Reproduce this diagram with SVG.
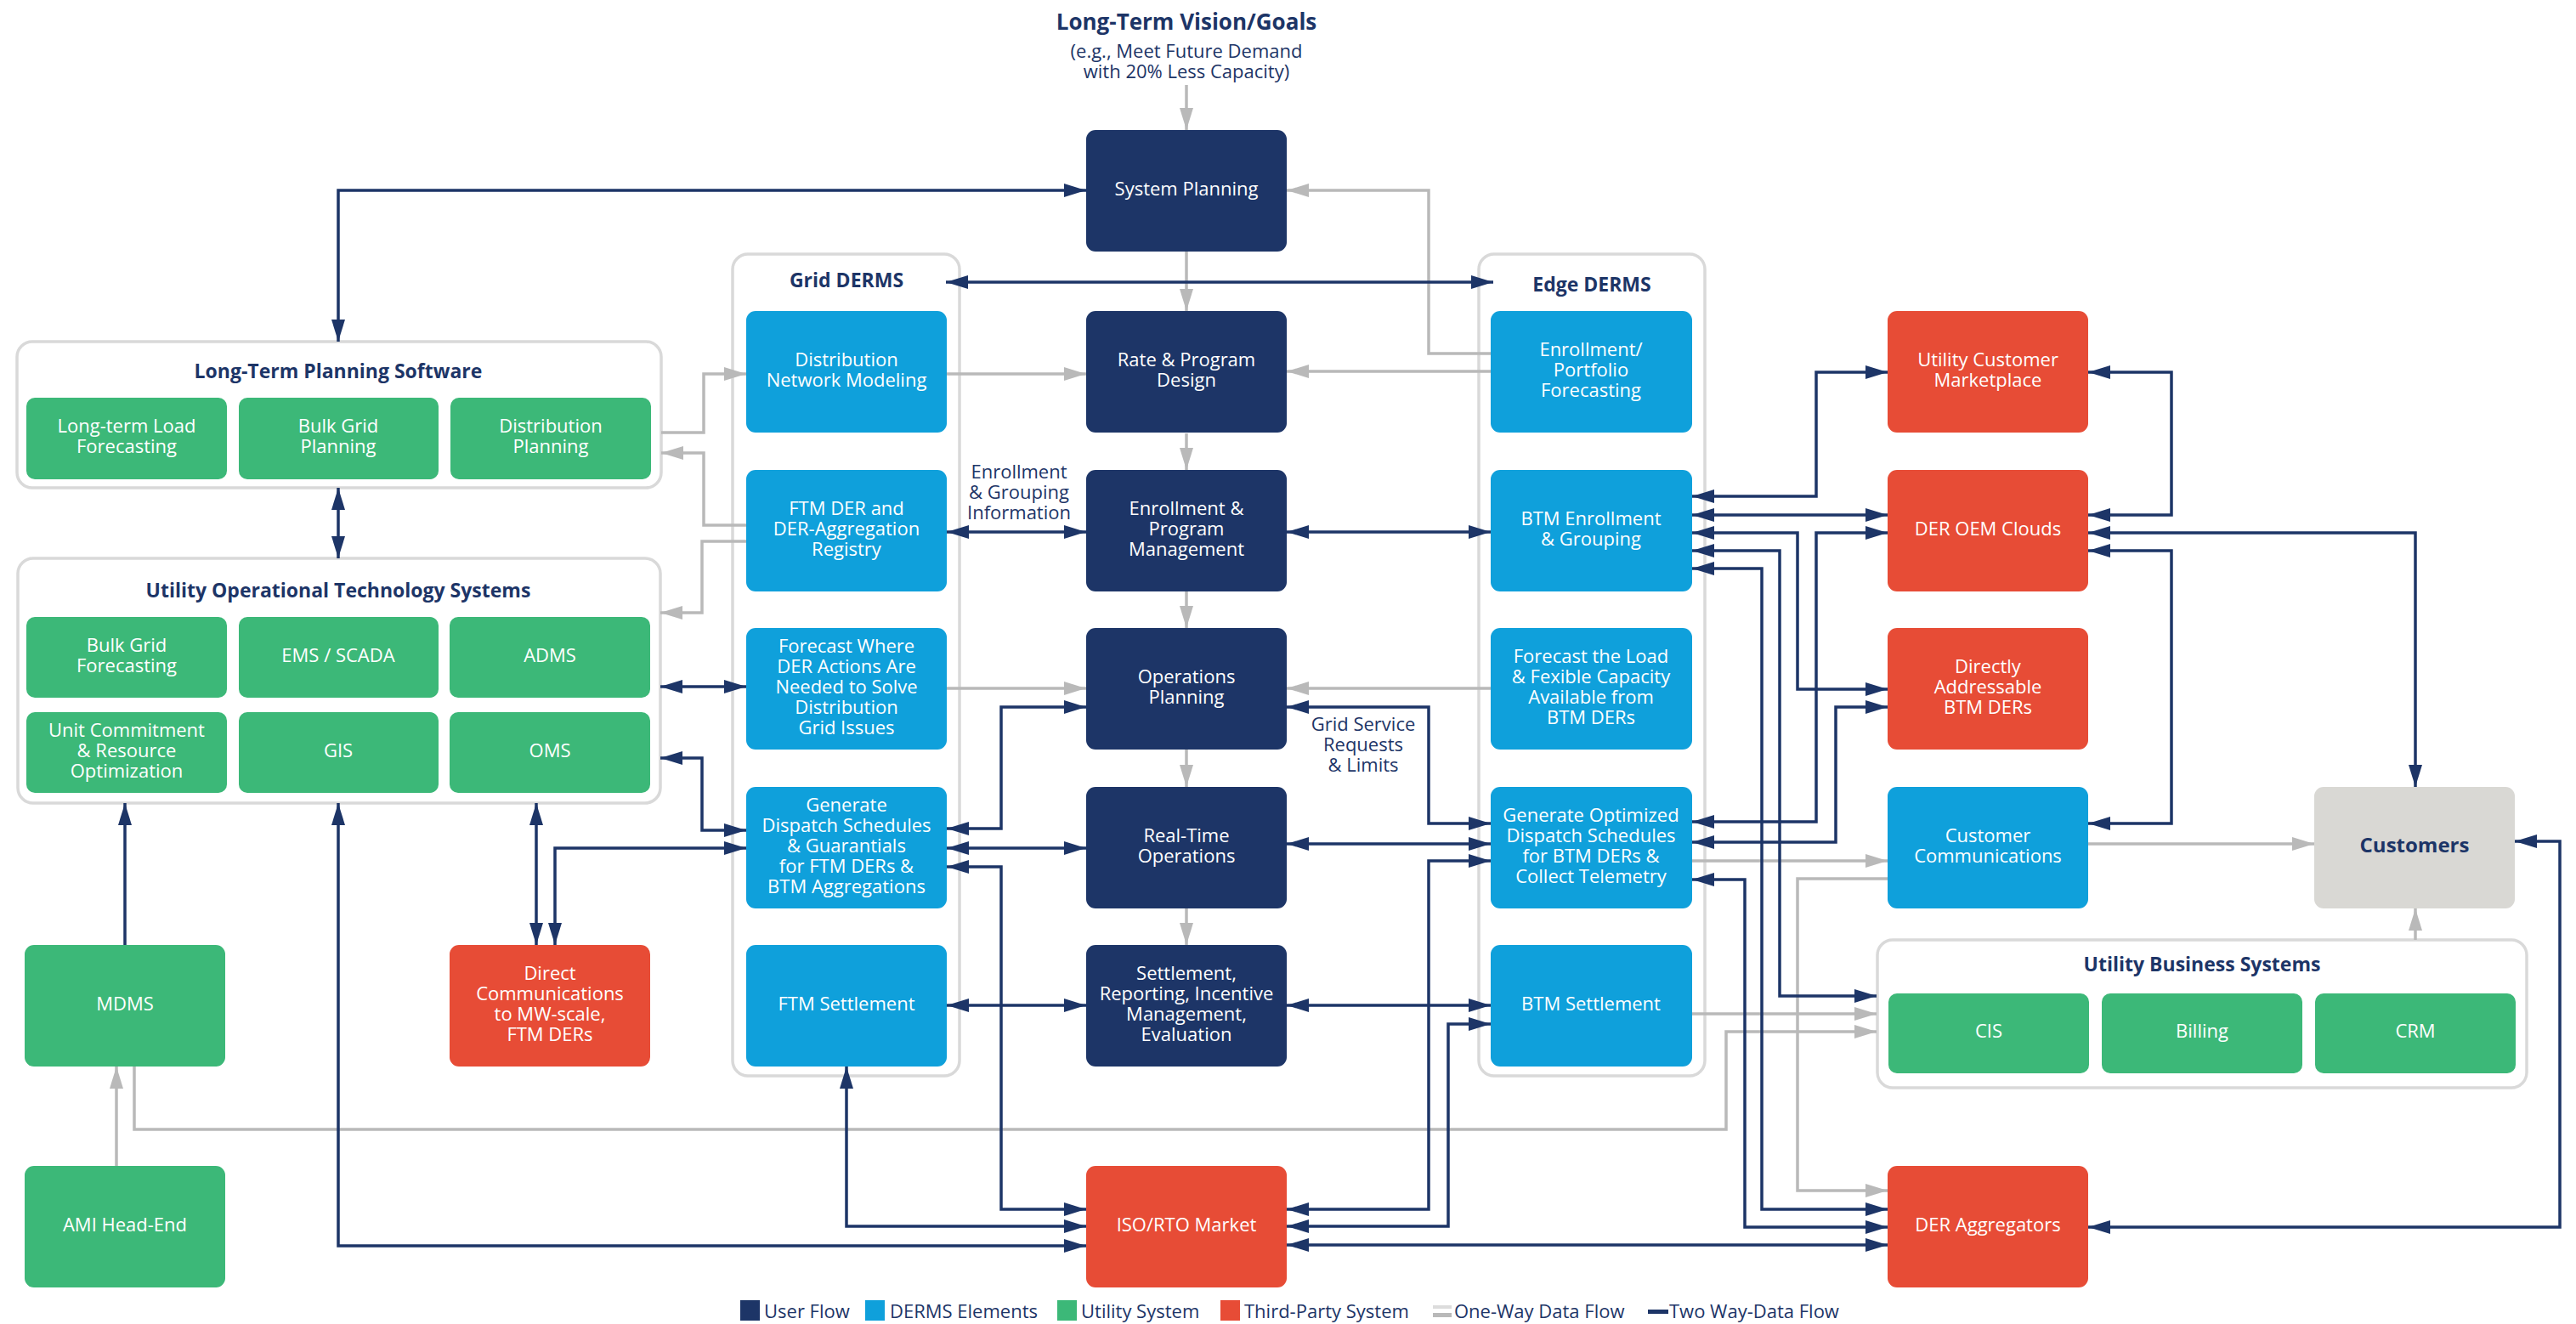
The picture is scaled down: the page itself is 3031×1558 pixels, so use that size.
<svg xmlns="http://www.w3.org/2000/svg" width="3031" height="1558" viewBox="0 0 3031 1558">
<style>
text{font-family:"Open Sans","Liberation Sans",sans-serif;}
.t{font-size:22px;fill:#fff;text-anchor:middle;transform:translate(0px,-3px)}
.h{font-size:23px;font-weight:bold;fill:#1d3567;text-anchor:middle}
.lb{font-size:22px;fill:#1d3567;text-anchor:middle}
.lg{font-size:22px;fill:#1d3567}
.nv{fill:#1d3567}.bl{fill:#0fa0db}.gr{fill:#3cb878}.rd{fill:#e74c36}.cu{fill:#d9d8d4}
.box{fill:#fff;stroke:#d9d9d9;stroke-width:3.5}
.c1{fill:none;stroke:#b9b9b9;stroke-width:3.5;marker-end:url(#ag)}
.c2{fill:none;stroke:#1d3567;stroke-width:3.5;marker-start:url(#an);marker-end:url(#an)}
.c3{fill:none;stroke:#1d3567;stroke-width:3.5;marker-end:url(#an)}
</style>
<defs>
<marker id="an" viewBox="0 0 26 16" refX="26" refY="8" markerWidth="26" markerHeight="16" markerUnits="userSpaceOnUse" orient="auto-start-reverse"><path d="M0,0 L26,8 L0,16 z" fill="#1d3567"/></marker>
<marker id="ag" viewBox="0 0 26 16" refX="26" refY="8" markerWidth="26" markerHeight="16" markerUnits="userSpaceOnUse" orient="auto"><path d="M0,0 L26,8 L0,16 z" fill="#b9b9b9"/></marker>
</defs>
<rect width="3031" height="1558" fill="#fff"/>

<g id="vision">
<text x="1396" y="35" style="font-size:26px;font-weight:bold;fill:#1d3567;text-anchor:middle">Long-Term Vision/Goals</text>
<text class="lb" x="1396" y="68">(e.g., Meet Future Demand</text>
<text class="lb" x="1396" y="92">with 20% Less Capacity)</text>
</g>

<!-- containers -->
<g id="ltps-container"><rect class="box" x="20" y="402" width="758" height="172" rx="18"/><text class="h" x="398" y="445">Long-Term Planning Software</text></g>
<g id="ot-container"><rect class="box" x="21" y="657" width="756" height="288" rx="18"/><text class="h" x="398" y="703">Utility Operational Technology Systems</text></g>
<g id="grid-derms"><rect class="box" x="862" y="299" width="267" height="967" rx="18"/><text class="h" x="996" y="338">Grid DERMS</text></g>
<g id="edge-derms"><rect class="box" x="1740" y="299" width="266" height="967" rx="18"/><text class="h" x="1873" y="343">Edge DERMS</text></g>
<g id="ubs-container"><rect class="box" x="2209" y="1106" width="764" height="174" rx="18"/><text class="h" x="2591" y="1143">Utility Business Systems</text></g>

<g id="connectors">
<path class="c1" d="M1396,100 V153"/>
<path class="c1" d="M1754,416 H1681 V224 H1514"/>
<path class="c1" d="M1396,296 V366"/>
<path class="c1" d="M1114,440 H1278"/>
<path class="c1" d="M1754,437 H1514"/>
<path class="c1" d="M778,509 H828 V440 H878"/>
<path class="c1" d="M878,618 H828 V533 H778"/>
<path class="c1" d="M878,637 H826 V721 H777"/>
<path class="c1" d="M1396,510 V553"/>
<path class="c1" d="M1114,810 H1278"/>
<path class="c1" d="M1754,810 H1514"/>
<path class="c1" d="M1396,696 V739"/>
<path class="c1" d="M1396,882 V926"/>
<path class="c1" d="M1396,1069 V1112"/>
<path class="c1" d="M137,1372 V1255"/>
<path class="c1" d="M158,1255 V1329 H2031 V1214 H2208"/>
<path class="c1" d="M1991,1193 H2208"/>
<path class="c1" d="M1991,1013 H2221"/>
<path class="c1" d="M2457,993 H2723"/>
<path class="c1" d="M2221,1034 H2115 V1401 H2221"/>
<path class="c1" d="M2842,1106 V1069"/>

<path class="c2" d="M398,402 V224 H1278"/>
<path class="c2" d="M1113,332 H1757"/>
<path class="c2" d="M398,574 V657"/>
<path class="c2" d="M777,808 H878"/>
<path class="c2" d="M777,892 H826 V977 H878"/>
<path class="c2" d="M653,1112 V998 H878"/>
<path class="c2" d="M631,945 V1112"/>
<path class="c3" d="M147,1112 V945"/>
<path class="c2" d="M398,945 V1466 H1278"/>
<path class="c2" d="M1114,626 H1278"/>
<path class="c2" d="M1514,626 H1754"/>
<path class="c2" d="M1114,975 H1178 V832 H1278"/>
<path class="c2" d="M1114,998 H1278"/>
<path class="c2" d="M1114,1020 H1178 V1423 H1278"/>
<path class="c2" d="M1514,832 H1681 V969 H1754"/>
<path class="c2" d="M1514,993 H1754"/>
<path class="c2" d="M1754,1013 H1681 V1423 H1514"/>
<path class="c2" d="M1754,1205 H1704 V1443 H1514"/>
<path class="c2" d="M1514,1183 H1754"/>
<path class="c2" d="M1114,1183 H1278"/>
<path class="c2" d="M996,1255 V1443 H1278"/>
<path class="c2" d="M1514,1465 H2221"/>
<path class="c2" d="M1991,584 H2137 V438 H2221"/>
<path class="c2" d="M1991,606 H2221"/>
<path class="c2" d="M1991,627 H2115 V811 H2221"/>
<path class="c2" d="M1991,648 H2094 V1172 H2208"/>
<path class="c2" d="M1991,669 H2073 V1423 H2221"/>
<path class="c2" d="M1991,967 H2137 V627 H2221"/>
<path class="c2" d="M1991,991 H2160 V832 H2221"/>
<path class="c2" d="M1991,1035 H2053 V1444 H2221"/>
<path class="c2" d="M2457,438 H2555 V606 H2457"/>
<path class="c2" d="M2457,627 H2842 V926"/>
<path class="c2" d="M2457,648 H2555 V969 H2457"/>
<path class="c2" d="M2959,990 H3012 V1444 H2457"/>
</g>

<g id="labels">
<text class="lb" x="1199" y="563">Enrollment</text>
<text class="lb" x="1199" y="587">&amp; Grouping</text>
<text class="lb" x="1199" y="611">Information</text>
<text class="lb" x="1604" y="860">Grid Service</text>
<text class="lb" x="1604" y="884">Requests</text>
<text class="lb" x="1604" y="908">&amp; Limits</text>
</g>

<!-- center column -->
<g id="system-planning"><rect class="nv" x="1278" y="153" width="236" height="143" rx="11"/><text class="t" x="1396" y="232.5">System Planning</text></g>
<g id="rate-program"><rect class="nv" x="1278" y="366" width="236" height="143" rx="11"/><text class="t" x="1396" y="433.5">Rate &amp; Program</text><text class="t" x="1396" y="457.5">Design</text></g>
<g id="enrollment-program"><rect class="nv" x="1278" y="553" width="236" height="143" rx="11"/><text class="t" x="1396" y="608.5">Enrollment &amp;</text><text class="t" x="1396" y="632.5">Program</text><text class="t" x="1396" y="656.5">Management</text></g>
<g id="operations-planning"><rect class="nv" x="1278" y="739" width="236" height="143" rx="11"/><text class="t" x="1396" y="806.5">Operations</text><text class="t" x="1396" y="830.5">Planning</text></g>
<g id="real-time"><rect class="nv" x="1278" y="926" width="236" height="143" rx="11"/><text class="t" x="1396" y="993.5">Real-Time</text><text class="t" x="1396" y="1017.5">Operations</text></g>
<g id="settlement"><rect class="nv" x="1278" y="1112" width="236" height="143" rx="11"/><text class="t" x="1396" y="1155.5">Settlement,</text><text class="t" x="1396" y="1179.5">Reporting, Incentive</text><text class="t" x="1396" y="1203.5">Management,</text><text class="t" x="1396" y="1227.5">Evaluation</text></g>
<g id="iso-rto"><rect class="rd" x="1278" y="1372" width="236" height="143" rx="11"/><text class="t" x="1396" y="1451.5">ISO/RTO Market</text></g>

<!-- grid derms -->
<g id="dist-network"><rect class="bl" x="878" y="366" width="236" height="143" rx="11"/><text class="t" x="996" y="433.5">Distribution</text><text class="t" x="996" y="457.5">Network Modeling</text></g>
<g id="ftm-registry"><rect class="bl" x="878" y="553" width="236" height="143" rx="11"/><text class="t" x="996" y="608.5">FTM DER and</text><text class="t" x="996" y="632.5">DER-Aggregation</text><text class="t" x="996" y="656.5">Registry</text></g>
<g id="forecast-where"><rect class="bl" x="878" y="739" width="236" height="143" rx="11"/><text class="t" x="996" y="770.5">Forecast Where</text><text class="t" x="996" y="794.5">DER Actions Are</text><text class="t" x="996" y="818.5">Needed to Solve</text><text class="t" x="996" y="842.5">Distribution</text><text class="t" x="996" y="866.5">Grid Issues</text></g>
<g id="gen-dispatch"><rect class="bl" x="878" y="926" width="236" height="143" rx="11"/><text class="t" x="996" y="957.5">Generate</text><text class="t" x="996" y="981.5">Dispatch Schedules</text><text class="t" x="996" y="1005.5">&amp; Guarantials</text><text class="t" x="996" y="1029.5">for FTM DERs &amp;</text><text class="t" x="996" y="1053.5">BTM Aggregations</text></g>
<g id="ftm-settlement"><rect class="bl" x="878" y="1112" width="236" height="143" rx="11"/><text class="t" x="996" y="1191.5">FTM Settlement</text></g>

<!-- edge derms -->
<g id="enroll-portfolio"><rect class="bl" x="1754" y="366" width="237" height="143" rx="11"/><text class="t" x="1872" y="421.5">Enrollment/</text><text class="t" x="1872" y="445.5">Portfolio</text><text class="t" x="1872" y="469.5">Forecasting</text></g>
<g id="btm-enrollment"><rect class="bl" x="1754" y="553" width="237" height="143" rx="11"/><text class="t" x="1872" y="620.5">BTM Enrollment</text><text class="t" x="1872" y="644.5">&amp; Grouping</text></g>
<g id="forecast-load"><rect class="bl" x="1754" y="739" width="237" height="143" rx="11"/><text class="t" x="1872" y="782.5">Forecast the Load</text><text class="t" x="1872" y="806.5">&amp; Fexible Capacity</text><text class="t" x="1872" y="830.5">Available from</text><text class="t" x="1872" y="854.5">BTM DERs</text></g>
<g id="gen-optimized"><rect class="bl" x="1754" y="926" width="237" height="143" rx="11"/><text class="t" x="1872" y="969.5">Generate Optimized</text><text class="t" x="1872" y="993.5">Dispatch Schedules</text><text class="t" x="1872" y="1017.5">for BTM DERs &amp;</text><text class="t" x="1872" y="1041.5">Collect Telemetry</text></g>
<g id="btm-settlement"><rect class="bl" x="1754" y="1112" width="237" height="143" rx="11"/><text class="t" x="1872" y="1191.5">BTM Settlement</text></g>

<!-- right column -->
<g id="ucm"><rect class="rd" x="2221" y="366" width="236" height="143" rx="11"/><text class="t" x="2339" y="433.5">Utility Customer</text><text class="t" x="2339" y="457.5">Marketplace</text></g>
<g id="der-oem"><rect class="rd" x="2221" y="553" width="236" height="143" rx="11"/><text class="t" x="2339" y="632.5">DER OEM Clouds</text></g>
<g id="directly-addressable"><rect class="rd" x="2221" y="739" width="236" height="143" rx="11"/><text class="t" x="2339" y="794.5">Directly</text><text class="t" x="2339" y="818.5">Addressable</text><text class="t" x="2339" y="842.5">BTM DERs</text></g>
<g id="customer-comm"><rect class="bl" x="2221" y="926" width="236" height="143" rx="11"/><text class="t" x="2339" y="993.5">Customer</text><text class="t" x="2339" y="1017.5">Communications</text></g>
<g id="der-aggregators"><rect class="rd" x="2221" y="1372" width="236" height="143" rx="11"/><text class="t" x="2339" y="1451.5">DER Aggregators</text></g>
<g id="customers"><rect class="cu" x="2723" y="926" width="236" height="143" rx="11"/><text x="2841" y="1003" style="font-size:24px;font-weight:bold;fill:#1d3567;text-anchor:middle">Customers</text></g>
<g id="cis"><rect class="gr" x="2222" y="1169" width="236" height="94" rx="10"/><text class="t" x="2340" y="1224">CIS</text></g>
<g id="billing"><rect class="gr" x="2473" y="1169" width="236" height="94" rx="10"/><text class="t" x="2591" y="1224">Billing</text></g>
<g id="crm"><rect class="gr" x="2724" y="1169" width="236" height="94" rx="10"/><text class="t" x="2842" y="1224">CRM</text></g>

<!-- left side -->
<g id="lt-load"><rect class="gr" x="31" y="468" width="236" height="96" rx="10"/><text class="t" x="149" y="512">Long-term Load</text><text class="t" x="149" y="536">Forecasting</text></g>
<g id="bulk-grid-planning"><rect class="gr" x="281" y="468" width="235" height="96" rx="10"/><text class="t" x="398" y="512">Bulk Grid</text><text class="t" x="398" y="536">Planning</text></g>
<g id="dist-planning"><rect class="gr" x="530" y="468" width="236" height="96" rx="10"/><text class="t" x="648" y="512">Distribution</text><text class="t" x="648" y="536">Planning</text></g>
<g id="bulk-grid-forecasting"><rect class="gr" x="31" y="726" width="236" height="95" rx="10"/><text class="t" x="149" y="769.5">Bulk Grid</text><text class="t" x="149" y="793.5">Forecasting</text></g>
<g id="ems-scada"><rect class="gr" x="281" y="726" width="235" height="95" rx="10"/><text class="t" x="398" y="781.5">EMS / SCADA</text></g>
<g id="adms"><rect class="gr" x="529" y="726" width="236" height="95" rx="10"/><text class="t" x="647" y="781.5">ADMS</text></g>
<g id="unit-commitment"><rect class="gr" x="31" y="838" width="236" height="95" rx="10"/><text class="t" x="149" y="869.5">Unit Commitment</text><text class="t" x="149" y="893.5">&amp; Resource</text><text class="t" x="149" y="917.5">Optimization</text></g>
<g id="gis"><rect class="gr" x="281" y="838" width="235" height="95" rx="10"/><text class="t" x="398" y="893.5">GIS</text></g>
<g id="oms"><rect class="gr" x="529" y="838" width="236" height="95" rx="10"/><text class="t" x="647" y="893.5">OMS</text></g>
<g id="mdms"><rect class="gr" x="29" y="1112" width="236" height="143" rx="11"/><text class="t" x="147" y="1191.5">MDMS</text></g>
<g id="ami"><rect class="gr" x="29" y="1372" width="236" height="143" rx="11"/><text class="t" x="147" y="1451.5">AMI Head-End</text></g>
<g id="direct-comm"><rect class="rd" x="529" y="1112" width="236" height="143" rx="11"/><text class="t" x="647" y="1155.5">Direct</text><text class="t" x="647" y="1179.5">Communications</text><text class="t" x="647" y="1203.5">to MW-scale,</text><text class="t" x="647" y="1227.5">FTM DERs</text></g>

<g id="legend">
<rect class="nv" x="871" y="1530" width="23" height="24"/><text class="lg" x="899" y="1551">User Flow</text>
<rect class="bl" x="1018" y="1530" width="23" height="24"/><text class="lg" x="1047" y="1551">DERMS Elements</text>
<rect class="gr" x="1244" y="1530" width="23" height="24"/><text class="lg" x="1272" y="1551">Utility System</text>
<rect class="rd" x="1436" y="1530" width="23" height="24"/><text class="lg" x="1464" y="1551">Third-Party System</text>
<rect x="1686" y="1536" width="22" height="4" fill="#dcdcdc"/><rect x="1686" y="1545" width="22" height="5" fill="#b9b9b9"/><text class="lg" x="1711" y="1551">One-Way Data Flow</text>
<rect class="nv" x="1939" y="1541" width="24" height="5"/><text class="lg" x="1964" y="1551">Two Way-Data Flow</text>
</g>
</svg>
